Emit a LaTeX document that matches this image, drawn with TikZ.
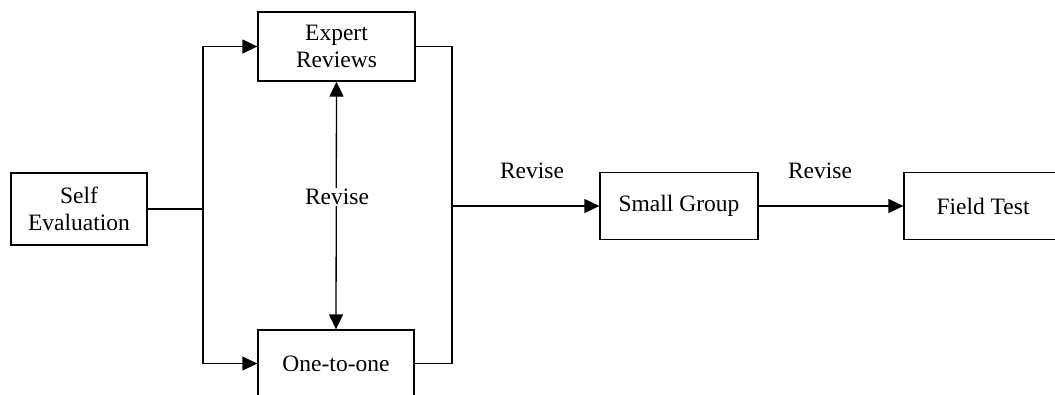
\documentclass[tikz,border=0pt]{standalone}
\usepackage{fontspec}
\setmainfont{Liberation Serif}
\usetikzlibrary{arrows.meta}
\begin{document}
\begin{tikzpicture}[x=1pt,y=-1pt,
  every node/.style={font=\fontsize{23.5}{27}\selectfont},
  box/.style={draw, line width=1.3pt, rectangle, inner sep=0pt, align=center},
  conn/.style={line width=1.3pt},
  tip/.tip={Triangle[length=15pt,width=14pt]},
  arr/.style={conn, -tip},
  lbl/.style={inner sep=1pt, fill=white}]
\useasboundingbox (0,0) rectangle (1055,394);
% boxes
\node[box, minimum width=136pt, minimum height=72pt] (se) at (79,209) {Self\\Evaluation};
\node[box, minimum width=157pt, minimum height=69pt] (er) at (336.5,46.5) {Expert\\Reviews};
\node[box, minimum width=156pt, minimum height=67pt] (oo) at (336,363.5) {One-to-one};
\node[box, minimum width=158pt, minimum height=67pt] (sg) at (679,206) {Small Group};
\node[box, minimum width=158pt, minimum height=67pt] (ft) at (983,206) {Field Test};
% junction coordinates
\coordinate (jl) at (203,209);
\coordinate (jr) at (452,206);
% left fan-out
\draw[conn] (se.east) -- (jl);
\draw[arr] (jl) |- (er.west);
\draw[arr] (jl) |- (oo.west);
% right collector
\draw[conn] (er.east) -| (jr);
\draw[conn] (oo.east) -| (jr);
\draw[arr] (jr) -- (sg.west);
\draw[arr] (sg.east) -- (ft.west);
% revise between expert and one-to-one
\draw[conn, tip-tip] (er.south) -- (oo.north);
\node[lbl] (rv1) at (337,197) {Revise};
\node (rv2) at (532,171) {Revise};
\node (rv3) at (820,171) {Revise};
\end{tikzpicture}
\end{document}
